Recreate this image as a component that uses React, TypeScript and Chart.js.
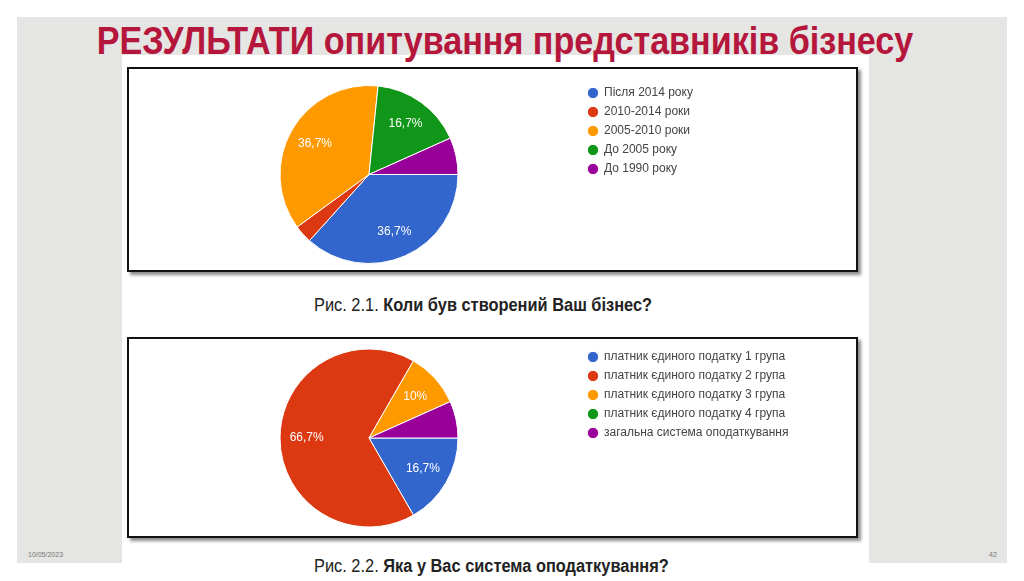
import { useEffect, useRef } from "react";
import { Chart, registerables } from "chart.js";

Chart.register(...registerables);

// Pie 1 – "Коли був створений Ваш бізнес?"
const yearLabels = ["Після 2014 року", "2010-2014 роки", "2005-2010 роки", "До 2005 року", "До 1990 року"];
const yearValues = [36.7, 3.3, 36.7, 16.7, 6.7];

// Pie 2 – "Яка у Вас система оподаткування?"
const taxLabels = [
  "платник єдиного податку 1 група",
  "платник єдиного податку 2 група",
  "платник єдиного податку 3 група",
  "платник єдиного податку 4 група",
  "загальна система оподаткування",
];
const taxValues = [16.7, 66.7, 10, 0, 6.7];

const sliceColors = ["#3366cc", "#dc3912", "#ff9900", "#109618", "#990099"];

const FONT = "Arial, 'Liberation Sans', sans-serif";
const LEGEND_SIZE = 12;
const LEGEND_PAD = 7;
const BOX_W = 10;

// draws "36,7%" inside slices that are big enough
const sliceLabels = {
  id: "sliceLabels",
  afterDatasetsDraw(chart: Chart) {
    const ctx = chart.ctx;
    const meta = chart.getDatasetMeta(0);
    const data = chart.data.datasets[0].data as number[];
    ctx.save();
    ctx.fillStyle = "#ffffff";
    ctx.font = `12px ${FONT}`;
    ctx.textAlign = "center";
    ctx.textBaseline = "middle";
    meta.data.forEach((arc: any, i: number) => {
      const v = data[i];
      if (v < 10) return;
      const { x, y, startAngle, endAngle, outerRadius } = arc.getProps(
        ["x", "y", "startAngle", "endAngle", "outerRadius"],
        true
      );
      const mid = (startAngle + endAngle) / 2;
      const r = outerRadius * 0.7;
      ctx.fillText(String(v).replace(".", ",") + "%", x + Math.cos(mid) * r, y + Math.sin(mid) * r);
    });
    ctx.restore();
  },
};

interface PieProps {
  labels: string[];
  values: number[];
  width: number;
  height: number;
  padTop: number;
  padBottom: number;
}

function PieBox({ labels, values, width, height, padTop, padBottom }: PieProps) {
  const ref = useRef<HTMLCanvasElement>(null);

  useEffect(() => {
    if (!ref.current) return;
    // legend should start at x=452 inside the canvas, so work out its width
    const m = document.createElement("canvas").getContext("2d")!;
    m.font = `${LEGEND_SIZE}px ${FONT}`;
    const tw = Math.max(...labels.map((l) => m.measureText(l).width));
    const legendW = LEGEND_PAD + BOX_W + LEGEND_SIZE / 2 + tw + 10;
    const padRight = Math.max(0, width - 452 - legendW);

    const chart = new Chart(ref.current, {
      type: "pie",
      data: {
        labels,
        datasets: [
          {
            data: values,
            backgroundColor: sliceColors,
            borderColor: "#ffffff",
            borderWidth: 1,
            radius: 89,
          },
        ],
      },
      options: {
        animation: false,
        responsive: false,
        rotation: 90,
        layout: { padding: { top: padTop, bottom: padBottom, left: 28, right: padRight } },
        plugins: {
          tooltip: { enabled: false },
          legend: {
            position: "right",
            align: "start",
            labels: {
              usePointStyle: true,
              pointStyle: "circle",
              boxWidth: BOX_W,
              boxHeight: 8,
              padding: LEGEND_PAD,
              color: "#444444",
              font: { size: LEGEND_SIZE, family: FONT },
            },
          },
        },
      },
      plugins: [sliceLabels],
    });
    return () => chart.destroy();
  }, []);

  return <canvas ref={ref} width={width} height={height} style={{ width, height, display: "block" }} />;
}

const boxStyle = (top: number, height: number): React.CSSProperties => ({
  position: "absolute",
  left: 127,
  top,
  width: 727,
  height,
  border: "2px solid #111",
  background: "#fff",
  boxShadow: "3px 3px 3px rgba(0,0,0,0.45)",
});

const captionStyle = (top: number): React.CSSProperties => ({
  position: "absolute",
  left: 314,
  top,
  fontFamily: FONT,
  fontSize: 18,
  color: "#222",
  whiteSpace: "nowrap",
  transform: "scaleX(0.91)",
  transformOrigin: "0 0",
});

export default function App() {
  return (
    <div
      style={{
        position: "fixed",
        left: 0,
        top: 0,
        width: 1024,
        height: 581,
        background: "#ffffff",
        overflow: "hidden",
        fontFamily: FONT,
      }}
    >
      <div style={{ position: "absolute", left: 17, top: 17, width: 990, height: 546, background: "#e5e5e3" }} />
      <div style={{ position: "absolute", left: 122, top: 55, width: 747, height: 526, background: "#ffffff" }} />
      <div
        style={{
          position: "absolute",
          left: 0,
          width: 1010,
          top: 20,
          textAlign: "center",
          fontFamily: FONT,
          fontWeight: "bold",
          fontSize: 38,
          color: "#b5163b",
          whiteSpace: "nowrap",
          transform: "scaleX(0.898)",
          transformOrigin: "505px 0",
        }}
      >
        РЕЗУЛЬТАТИ опитування представників бізнесу
      </div>

      <div style={boxStyle(67, 201)}>
        <PieBox labels={yearLabels} values={yearValues} width={727} height={201} padTop={11} padBottom={1} />
      </div>
      <div style={captionStyle(295)}>
        Рис. 2.1. <b>Коли був створений Ваш бізнес?</b>
      </div>

      <div style={boxStyle(337, 197)}>
        <PieBox labels={taxLabels} values={taxValues} width={727} height={197} padTop={5} padBottom={4} />
      </div>
      <div style={captionStyle(556)}>
        Рис. 2.2. <b>Яка у Вас система оподаткування?</b>
      </div>

      <div style={{ position: "absolute", left: 28, top: 551, fontSize: 7, color: "#777" }}>10/05/2023</div>
      <div style={{ position: "absolute", left: 989, top: 551, fontSize: 7, color: "#777" }}>42</div>
    </div>
  );
}
